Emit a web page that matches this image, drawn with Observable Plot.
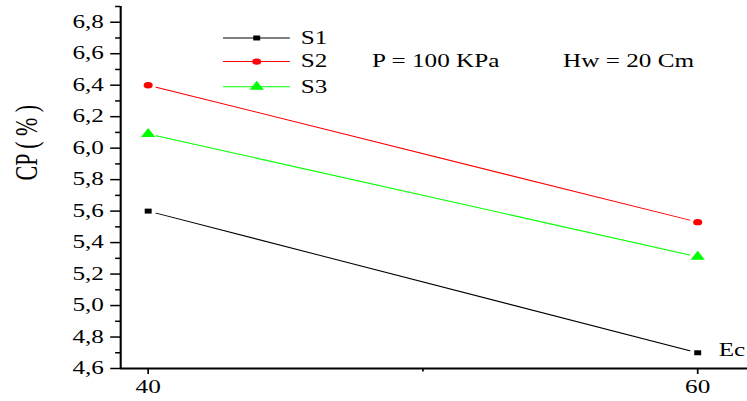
<!DOCTYPE html>
<html>
<head>
<meta charset="utf-8">
<script src="https://cdn.jsdelivr.net/npm/d3@7"></script>
<script src="https://cdn.jsdelivr.net/npm/@observablehq/plot@0.6"></script>
<style>
  html, body { margin: 0; padding: 0; background: #fff; }
  #chart svg { display: block; }
</style>
</head>
<body>
<div id="chart"></div>
<script>
// Compaction at two dates, three samples
const xValues = [40, 60];
const seriesNames = ["S1", "S2", "S3"];
const s1Values = [5.6, 4.7];
const s2Values = [6.4, 5.53];
const s3Values = [6.09, 5.31];

// Axis ticks and their labels (decimal comma)
const yTicks = [4.6, 4.8, 5.0, 5.2, 5.4, 5.6, 5.8, 6.0, 6.2, 6.4, 6.6, 6.8];
const yTickLabels = ["4,6", "4,8", "5,0", "5,2", "5,4", "5,6", "5,8", "6,0", "6,2", "6,4", "6,6", "6,8"];
const yMinorTicks = [4.7, 4.9, 5.1, 5.3, 5.5, 5.7, 5.9, 6.1, 6.3, 6.5, 6.7, 6.9];
const xTicks = [40, 60];
const xTickLabels = ["40", "60"];
const xMinorTicks = [50];

const yLabel = "CP ( % )";
const conditionLabels = ["P = 100 KPa", "Hw = 20 Cm"];
const endLabel = "Ec";

// Styles
const seriesColors = ["#000000", "#ff0000", "#00ff00"];
const seriesSymbols = ["square", "circle", "triangle"];
const seriesRadius = [2.8, 3.2, 3.8];

// The drawing is made narrower and stretched horizontally on screen
const STRETCH = 1.4;
const OUT_W = 747, OUT_H = 401;
const W = OUT_W / STRETCH;

const seriesValues = [s1Values, s2Values, s3Values];
const points = seriesNames.flatMap((name, i) =>
  xValues.map((x, j) => ({ series: name, x, y: seriesValues[i][j] }))
);
const segments = seriesNames.map((name, i) => ({
  series: name,
  x1: xValues[0], y1: seriesValues[i][0],
  x2: xValues[1], y2: seriesValues[i][1]
}));

// Legend placement, in data units
const legendX1 = 42.75, legendX2 = 45.18, legendMarkX = 43.95, legendTextX = 45.55;
const legendY = [6.70, 6.55, 6.39];
const conditionX = [48.15, 55.1];
const legend = seriesNames.map((name, i) => ({ series: name, y: legendY[i] }));

const marks = [
  // spines
  Plot.ruleX([39], { stroke: "#000", strokeWidth: 1.5 }),
  Plot.ruleY([4.6], { stroke: "#000", strokeWidth: 2 }),
  // y axis
  Plot.axisY(yTicks, {
    tickSize: 7, tickPadding: 5, strokeWidth: 1.5, label: null, fontSize: 18,
    tickFormat: d => yTickLabels[yTicks.indexOf(d)]
  }),
  Plot.axisY(yMinorTicks, { tickSize: 3.5, strokeWidth: 1.5, label: null, tickFormat: () => "" }),
  // x axis
  Plot.axisX(xTicks, {
    tickSize: 6, tickPadding: 6, strokeWidth: 1.2, label: null, fontSize: 18,
    tickFormat: d => xTickLabels[xTicks.indexOf(d)]
  }),
  Plot.axisX(xMinorTicks, { tickSize: 3.5, strokeWidth: 1.2, label: null, tickFormat: () => "" }),
  // y axis title
  Plot.text([yLabel], {
    frameAnchor: "left", y: [6.035], text: d => d, rotate: -90,
    textAnchor: "middle", dx: -67, fontSize: 22
  }),
  // series lines, stopping short of the markers
  ...seriesNames.map((name, i) => Plot.arrow(segments.filter(d => d.series === name), {
    x1: "x1", y1: "y1", x2: "x2", y2: "y2",
    stroke: seriesColors[i], strokeWidth: 1, headLength: 0, inset: 6
  })),
  // series markers
  ...seriesNames.map((name, i) => Plot.dot(points.filter(d => d.series === name), {
    x: "x", y: "y", symbol: seriesSymbols[i], fill: seriesColors[i], r: seriesRadius[i], stroke: "none"
  })),
  // end label
  Plot.text([endLabel], {
    x: [xValues[1]], y: [s1Values[1]], text: d => d,
    textAnchor: "start", dx: 15, dy: -3, fontSize: 18
  }),
  // legend
  ...seriesNames.map((name, i) => Plot.ruleY([legend[i]], {
    y: "y", x1: legendX1, x2: legendX2, stroke: seriesColors[i], strokeWidth: 1
  })),
  ...seriesNames.map((name, i) => Plot.dot([legend[i]], {
    x: () => legendMarkX, y: "y", symbol: seriesSymbols[i], fill: seriesColors[i], r: seriesRadius[i], stroke: "none"
  })),
  Plot.text(legend, {
    x: () => legendTextX, y: "y", text: "series", textAnchor: "start", fontSize: 18
  }),
  Plot.text(conditionLabels, {
    x: (d, i) => conditionX[i], y: () => legendY[1], text: d => d, textAnchor: "start", fontSize: 18
  })
];

const chart = Plot.plot({
  width: W,
  height: OUT_H,
  marginLeft: 120 / STRETCH,
  marginRight: 0,
  marginTop: 6,
  marginBottom: 33,
  x: { domain: [39, 61.82] },
  y: { domain: [4.6, 6.9] },
  style: {
    fontFamily: "'Liberation Serif', 'Times New Roman', serif",
    fontSize: "17px",
    color: "#000",
    background: "#fff",
    overflow: "visible"
  },
  marks
});

chart.setAttribute("width", OUT_W);
chart.setAttribute("height", OUT_H);
chart.setAttribute("preserveAspectRatio", "none");
chart.style.width = OUT_W + "px";
chart.style.height = OUT_H + "px";
chart.style.maxWidth = "none";
document.getElementById("chart").appendChild(chart);
</script>
</body>
</html>
